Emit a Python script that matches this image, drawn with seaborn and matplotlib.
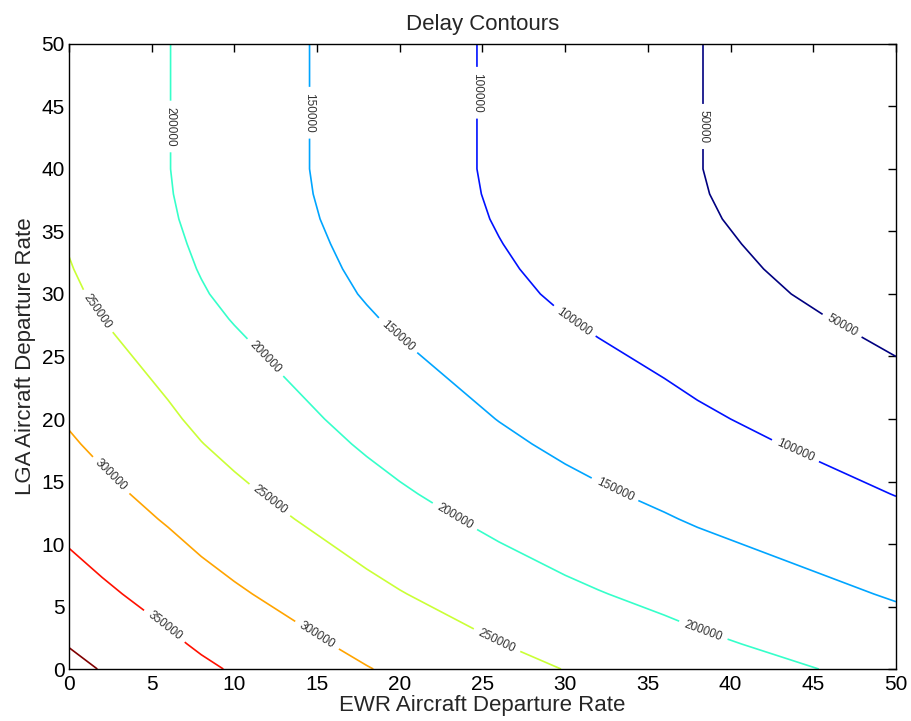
import numpy as np
import matplotlib
matplotlib.use('Agg')
import matplotlib.pyplot as plt
from matplotlib.colors import LinearSegmentedColormap
import seaborn as sns

# departure rates on each airport (grid axes)
ewr_rate = [0, 2, 4, 6, 8, 10, 12, 14, 16, 18, 20, 22, 24, 26, 28, 30, 32, 34, 36, 38, 40, 42, 44, 46, 48, 50]
lga_rate = [0, 2, 4, 6, 8, 10, 12, 14, 16, 18, 20, 22, 24, 26, 28, 30, 32, 34, 36, 38, 40, 42, 44, 46, 48, 50]

# delay contributions (thousands)
ewr_delay = [241, 227, 214, 201, 187, 175, 164, 153, 142, 131, 121, 112, 103, 94, 86, 78, 71, 64.5, 58, 51,
             45, 39, 33, 27, 21, 15]
lga_delay = [171, 157, 144, 131, 119, 107, 95, 84, 74, 64, 55, 47, 39, 31, 23, 16, 11, 7, 3.5, 1.2,
             0, 0, 0, 0, 0, 0]

levels = [50000, 100000, 150000, 200000, 250000, 300000, 350000, 400000]

# delay table on the grid (rows = LGA, cols = EWR)
delay = np.add.outer(np.array(lga_delay), np.array(ewr_delay)) * 1000

# matlab style jet
jet_m = LinearSegmentedColormap.from_list('jet_m', [
    (0.0, (0, 0, 0.5)), (0.125, (0, 0, 1)), (0.375, (0, 1, 1)),
    (0.625, (1, 1, 0)), (0.875, (1, 0, 0)), (1.0, (0.5, 0, 0))])

sns.set_style('white')
plt.rcParams['font.family'] = ['Liberation Sans', 'DejaVu Sans']

fig = plt.figure(figsize=(9.11, 7.21), dpi=100)
ax = fig.add_axes([0.0757, 0.0721, 0.9078, 0.8669])

cs = ax.contour(ewr_rate, lga_rate, delay, levels=levels, cmap=jet_m,
                vmin=50000, vmax=400000, linewidths=1.2)

# where the labels sit in the original
label_spots = [(6.1, 43.4), (14.5, 44.5), (24.6, 46.1), (38.3, 43.4),
               (1.6, 28.5), (11.7, 24.7), (19.9, 26.7), (30.4, 27.5), (46.5, 26.9),
               (43.8, 17.1), (32.8, 13.8), (23.0, 11.5), (11.9, 13.1), (2.4, 15.3),
               (5.7, 3.3), (14.9, 2.5), (25.8, 2.1), (38.3, 2.9)]
ax.clabel(cs, fmt='%d', fontsize=8.5, colors='#333333', inline=True,
          inline_spacing=6, manual=label_spots)
# vertical labels read top to bottom like the original
for t in cs.labelTexts:
    if abs(t.get_rotation() - 90) < 2:
        t.set_rotation(-90)

ax.set_xlim(0, 50)
ax.set_ylim(0, 50)
ax.set_xticks(range(0, 51, 5))
ax.set_yticks(range(0, 51, 5))
ax.tick_params(direction='in', length=5.5, width=1, top=True, right=True,
               labelsize=15, colors='black')
ax.tick_params(axis='x', pad=4)
ax.tick_params(axis='y', pad=3)
for s in ax.spines.values():
    s.set_color('black')
    s.set_linewidth(1)

ax.set_title('Delay Contours', fontsize=16, pad=10)
ax.set_xlabel('EWR Aircraft Departure Rate', fontsize=16, labelpad=1)
ax.set_ylabel('LGA Aircraft Departure Rate', fontsize=16, labelpad=4)

fig.savefig('out.png', dpi=100)
